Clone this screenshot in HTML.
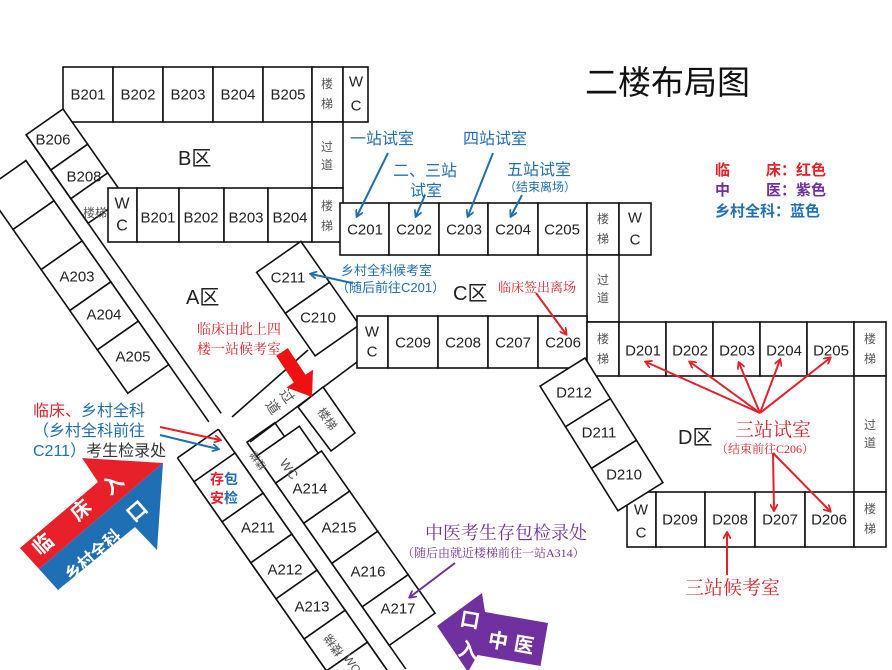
<!DOCTYPE html>
<html><head><meta charset="utf-8"><style>
html,body{margin:0;padding:0;background:#fff;width:892px;height:670px;overflow:hidden}
svg{display:block}
text{font-family:"Liberation Sans","Noto Sans CJK SC",sans-serif}
.r{fill:#fff;stroke:#111;stroke-width:1.6}
.l{stroke:#111;stroke-width:1.6;fill:none}
.t{font-size:15px;fill:#222;text-anchor:middle;dominant-baseline:central}
.s{font-size:12px;fill:#555;text-anchor:middle;dominant-baseline:central}
.cj{font-family:"Liberation Serif","Noto Serif CJK SC",serif}
</style></head><body>
<svg width="892" height="670" viewBox="0 0 892 670" xmlns="http://www.w3.org/2000/svg" overflow="hidden">
<defs>
<clipPath id="cp"><rect x="0" y="0" width="892" height="670"/></clipPath>
<marker id="ab" markerWidth="8" markerHeight="8" refX="6" refY="4" orient="auto" markerUnits="userSpaceOnUse"><path d="M0,0 L7,4 L0,8" fill="none" stroke="#1f6fb5" stroke-width="1.8"/></marker>
<marker id="ar" markerWidth="8" markerHeight="8" refX="6" refY="4" orient="auto" markerUnits="userSpaceOnUse"><path d="M0,0 L7,4 L0,8" fill="none" stroke="#e8202a" stroke-width="1.8"/></marker>
<marker id="ap" markerWidth="8" markerHeight="8" refX="6" refY="4" orient="auto" markerUnits="userSpaceOnUse"><path d="M0,0 L7,4 L0,8" fill="none" stroke="#7030a0" stroke-width="1.8"/></marker>
</defs>
<g clip-path="url(#cp)">
<!-- B top row -->
<g>
<rect class="r" x="63" y="67" width="50" height="55"/><rect class="r" x="113" y="67" width="50" height="55"/>
<rect class="r" x="163" y="67" width="50" height="55"/><rect class="r" x="213" y="67" width="50" height="55"/>
<rect class="r" x="263" y="67" width="49" height="55"/><rect class="r" x="312" y="67" width="31" height="55"/>
<rect class="r" x="343" y="67" width="25" height="55"/>
<text class="t" x="88" y="95">B201</text><text class="t" x="138" y="95">B202</text><text class="t" x="188" y="95">B203</text><text class="t" x="238" y="95">B204</text><text class="t" x="288" y="95">B205</text>
<text class="s" x="327" y="84">楼</text><text class="s" x="327" y="104">梯</text>
<text class="t" x="356" y="82">W</text><text class="t" x="356" y="106">C</text>
<rect class="r" x="312" y="122" width="31" height="66"/>
<text class="s" x="327" y="147">过</text><text class="s" x="327" y="165">道</text>
</g>

<!-- left A wing -->
<g transform="translate(63,109) rotate(55)">
<rect class="r" x="0" y="0" width="43" height="45"/><rect class="r" x="43" y="0" width="35" height="45"/><rect class="r" x="78" y="0" width="30" height="45"/>
<line class="l" x1="0" y1="45" x2="340" y2="45"/><line class="l" x1="20" y1="60" x2="340" y2="60"/>
<rect class="r" x="21" y="60" width="49" height="50"/><rect class="r" x="70" y="60" width="49" height="50"/>
<rect class="r" x="119" y="60" width="50" height="50"/><rect class="r" x="169" y="60" width="48" height="50"/>
<rect class="r" x="217" y="60" width="53" height="50"/>
</g>
<g>
<rect class="r" x="108" y="188" width="29" height="54"/><rect class="r" x="137" y="188" width="42" height="54"/>
<rect class="r" x="179" y="188" width="45" height="54"/><rect class="r" x="224" y="188" width="44" height="54"/>
<rect class="r" x="268" y="188" width="44" height="54"/><rect class="r" x="312" y="188" width="31" height="54"/>
<text class="t" x="122" y="204" style="font-size:16px">W</text><text class="t" x="122" y="226" style="font-size:16px">C</text>
<text class="t" x="158" y="218">B201</text><text class="t" x="201" y="218">B202</text><text class="t" x="246" y="218">B203</text><text class="t" x="290" y="218">B204</text>
<text class="s" x="327" y="206">楼</text><text class="s" x="327" y="226">梯</text>
</g>
<text x="178" y="165" style="font-size:20px;fill:#222">B区</text>
<text class="t" x="53" y="140">B206</text><text class="t" x="84" y="177">B208</text>
<text class="s" x="95" y="213">楼梯</text>
<text class="t" x="77" y="277">A203</text><text class="t" x="104" y="315">A204</text><text class="t" x="133" y="357">A205</text>
<text x="186" y="304" style="font-size:20px;fill:#222">A区</text>

<!-- lower A wing -->
<g transform="translate(235,453) rotate(55)">
<line class="l" x1="-29" y1="50" x2="270" y2="50"/><line class="l" x1="-29" y1="0" x2="-29" y2="50"/>
<line class="l" x1="-29" y1="0" x2="275" y2="0"/>
<rect class="r" x="0" y="0" width="49" height="50"/><rect class="r" x="49" y="0" width="50" height="50"/>
<rect class="r" x="99" y="0" width="44" height="50"/><rect class="r" x="143" y="0" width="49" height="50"/>
<rect class="r" x="192" y="0" width="39" height="50"/><rect class="r" x="231" y="0" width="40" height="50"/>
<line class="l" x1="0" y1="-16" x2="275" y2="-16"/>
<rect class="r" x="-2" y="-50" width="17" height="34"/><rect class="r" x="15" y="-68" width="33" height="52"/>
<rect class="r" x="48" y="-72" width="49" height="56"/><rect class="r" x="97" y="-72" width="49" height="56"/>
<rect class="r" x="146" y="-72" width="53" height="56"/><rect class="r" x="199" y="-72" width="47" height="56"/>
</g>
<text x="224" y="484" style="font-size:14px;font-weight:bold;text-anchor:middle"><tspan fill="#e8202a">存</tspan><tspan fill="#1f6fb5">包</tspan></text>
<text x="224" y="503" style="font-size:14px;font-weight:bold;text-anchor:middle"><tspan fill="#e8202a">安</tspan><tspan fill="#1f6fb5">检</tspan></text>
<text class="t" x="258" y="528">A211</text><text class="t" x="285" y="570">A212</text><text class="t" x="312" y="607">A213</text>
<text class="t" x="310" y="489">A214</text><text class="t" x="339" y="528">A215</text><text class="t" x="368" y="572">A216</text><text class="t" x="398" y="609">A217</text>
<text class="s" transform="translate(334,645) rotate(-125)">楼梯</text>
<text class="s" transform="translate(352,664) rotate(55)">WC</text>
<text class="s" transform="translate(259,460) rotate(-125)" style="font-size:10px">楼梯</text>
<text class="s" transform="translate(289,469) rotate(55)" style="font-size:13px">WC</text>

<!-- C211/C210 wing & corridor -->
<g transform="translate(302,243) rotate(55)">
<rect class="r" x="-2" y="0" width="50" height="54"/><rect class="r" x="48" y="0" width="52" height="54"/>
</g>
<line class="l" x1="232" y1="417" x2="308" y2="350"/>
<line class="l" x1="250" y1="442" x2="357" y2="362"/>
<polygon class="r" points="298,407 323,387 355,433 331,451"/>
<text class="s" transform="translate(327,419) rotate(55)">楼梯</text>
<text class="s" transform="translate(287,396) rotate(55)" style="font-size:14px">过</text>
<text class="s" transform="translate(273,407) rotate(55)" style="font-size:14px">道</text>
<text class="t" x="288" y="278">C211</text><text class="t" x="318" y="318">C210</text>
<polygon fill="#ee1111" points="287.8,348.1 305.5,374.7 313,369.7 312,397 286.4,387.5 293.9,382.5 276.2,355.9"/>
<text x="197" y="334" style="font-size:14px;fill:#e8202a" class="cj">临床由此上四</text>
<text x="197" y="354" style="font-size:14px;fill:#e8202a" class="cj">楼一站候考室</text>

<!-- C top row -->
<rect class="r" x="340" y="203" width="49" height="52"/><rect class="r" x="389" y="203" width="50" height="52"/>
<rect class="r" x="439" y="203" width="49" height="52"/><rect class="r" x="488" y="203" width="50" height="52"/>
<rect class="r" x="538" y="203" width="49" height="52"/><rect class="r" x="587" y="203" width="32" height="52"/>
<rect class="r" x="619" y="203" width="32" height="52"/>
<text class="t" x="365" y="230">C201</text><text class="t" x="414" y="230">C202</text><text class="t" x="464" y="230">C203</text><text class="t" x="513" y="230">C204</text><text class="t" x="562" y="230">C205</text>
<text class="s" x="603" y="219">楼</text><text class="s" x="603" y="239">梯</text>
<text class="t" x="635" y="218">W</text><text class="t" x="635" y="240">C</text>
<rect class="r" x="587" y="255" width="32" height="67"/>
<text class="s" x="603" y="280">过</text><text class="s" x="603" y="298">道</text>
<!-- C bottom row -->
<rect class="r" x="357" y="316" width="31" height="52"/><rect class="r" x="388" y="316" width="50" height="52"/>
<rect class="r" x="438" y="316" width="50" height="52"/><rect class="r" x="488" y="316" width="50" height="52"/>
<rect class="r" x="538" y="316" width="49" height="52"/>
<text class="t" x="372" y="332">W</text><text class="t" x="372" y="352">C</text>
<text class="t" x="413" y="343">C209</text><text class="t" x="463" y="343">C208</text><text class="t" x="513" y="343">C207</text><text class="t" x="563" y="343">C206</text>
<rect class="r" x="587" y="322" width="32" height="54"/>
<text class="s" x="603" y="339">楼</text><text class="s" x="603" y="359">梯</text>
<text x="453" y="300" style="font-size:20px;fill:#222">C区</text>
<!-- D rows -->
<rect class="r" x="619" y="322" width="47" height="54"/><rect class="r" x="666" y="322" width="47" height="54"/>
<rect class="r" x="713" y="322" width="47" height="54"/><rect class="r" x="760" y="322" width="47" height="54"/>
<rect class="r" x="807" y="322" width="47" height="54"/><rect class="r" x="854" y="322" width="32" height="54"/>
<text class="t" x="643" y="351">D201</text><text class="t" x="690" y="351">D202</text><text class="t" x="737" y="351">D203</text><text class="t" x="784" y="351">D204</text><text class="t" x="831" y="351">D205</text>
<text class="s" x="870" y="339">楼</text><text class="s" x="870" y="359">梯</text>
<rect class="r" x="854" y="376" width="32" height="116"/>
<text class="s" x="870" y="425">过</text><text class="s" x="870" y="443">道</text>
<rect class="r" x="627" y="492" width="29" height="55"/><rect class="r" x="656" y="492" width="49" height="55"/>
<rect class="r" x="705" y="492" width="50" height="55"/><rect class="r" x="755" y="492" width="50" height="55"/>
<rect class="r" x="805" y="492" width="49" height="55"/><rect class="r" x="854" y="492" width="32" height="55"/>
<text class="t" x="641" y="510">W</text><text class="t" x="641" y="533">C</text>
<text class="t" x="680" y="520">D209</text><text class="t" x="730" y="520">D208</text><text class="t" x="780" y="520">D207</text><text class="t" x="829" y="520">D206</text>
<text class="s" x="870" y="509">楼</text><text class="s" x="870" y="529">梯</text>
<g transform="translate(585,358) rotate(58)">
<rect class="r" x="0" y="0" width="48" height="53"/><rect class="r" x="48" y="0" width="49" height="53"/><rect class="r" x="97" y="0" width="50" height="53"/>
</g>
<text class="t" x="574" y="393">D212</text><text class="t" x="599" y="433">D211</text><text class="t" x="624" y="475">D210</text>
<text x="678" y="444" style="font-size:20px;fill:#222">D区</text>

<!-- title & legend -->
<text x="585" y="94" style="font-size:33px;fill:#111">二楼布局图</text>
<g style="font-size:15px;font-weight:bold">
<text x="715" y="175" fill="#e8202a">临</text><text x="766" y="175" fill="#e8202a">床：红色</text>
<text x="715" y="195" fill="#7030a0">中</text><text x="766" y="195" fill="#7030a0">医：紫色</text>
<text x="715" y="216" fill="#1f6fb5">乡村全科：蓝色</text>
</g>

<!-- blue labels -->
<g class="cj" fill="#1f6fb5">
<text x="350" y="144" style="font-size:16px">一站试室</text>
<text x="463" y="144" style="font-size:16px">四站试室</text>
<text x="393" y="176" style="font-size:16px">二、三站</text>
<text x="410" y="196" style="font-size:16px">试室</text>
<text x="507" y="175" style="font-size:16px">五站试室</text>
<text x="504" y="191" style="font-size:12px">（结束离场）</text>
<text x="341" y="275" style="font-size:13px">乡村全科候考室</text>
<text x="336" y="292" style="font-size:13px">（随后前往C201）</text>
</g>
<g stroke="#1f6fb5" stroke-width="2" marker-end="url(#ab)">
<line x1="388" y1="153" x2="357" y2="216"/>
<line x1="425" y1="195" x2="416" y2="216"/>
<line x1="493" y1="153" x2="468" y2="216"/>
<line x1="522" y1="195" x2="511" y2="216"/>
<line x1="352" y1="283" x2="311" y2="274"/>
</g>
<text x="498" y="292" class="cj" style="font-size:13px;fill:#e8202a">临床签出离场</text>
<g stroke="#e8202a" stroke-width="2" marker-end="url(#ar)">
<line x1="536" y1="293" x2="566" y2="334"/>
<line x1="760" y1="413" x2="646" y2="362"/>
<line x1="760" y1="413" x2="690" y2="362"/>
<line x1="760" y1="413" x2="739" y2="363"/>
<line x1="760" y1="413" x2="780" y2="360"/>
<line x1="760" y1="413" x2="830" y2="358"/>
<line x1="773" y1="453" x2="774" y2="510"/>
<line x1="773" y1="453" x2="830" y2="511"/>
<line x1="727" y1="575" x2="727" y2="533"/>
</g>
<text x="735" y="436" class="cj" style="font-size:19px;fill:#e8202a">三站试室</text>
<text x="716" y="453" class="cj" style="font-size:12px;fill:#e8202a">（结束前往C206）</text>
<text x="685" y="594" class="cj" style="font-size:19px;fill:#e8202a">三站候考室</text>

<!-- left labels -->
<g class="cj" style="font-size:16px">
<text x="33" y="416"><tspan fill="#e8202a">临床、</tspan><tspan fill="#1f6fb5">乡村全科</tspan></text>
<text x="33" y="436" fill="#1f6fb5">（乡村全科前往</text>
<text x="33" y="456"><tspan fill="#1f6fb5" font-family="Liberation Sans">C211</tspan><tspan fill="#1f6fb5">）</tspan><tspan fill="#333">考生检录处</tspan></text>
</g>
<line x1="160" y1="427" x2="220" y2="440" stroke="#e8202a" stroke-width="2" marker-end="url(#ar)"/>
<line x1="160" y1="435" x2="218" y2="449" stroke="#1f6fb5" stroke-width="2" marker-end="url(#ab)"/>

<!-- entrance arrow red/blue -->
<polygon fill="#e8202a" points="20,548 98,482 82,458 163,463 39,569"/>
<polygon fill="#1f6fb5" points="163,463 157,550 135,527 58,590 39,569"/>
<g fill="#fff" style="font-size:20px;font-weight:bold">
<text transform="translate(40,556) rotate(-41)">临</text>
<text transform="translate(78,522) rotate(-41)">床</text>
<text transform="translate(110,496) rotate(-41)">入</text>
<text transform="translate(71,582) rotate(-41)" style="font-size:17px">乡村全科</text>
<text transform="translate(134,523) rotate(-41)">口</text>
</g>

<!-- purple -->
<text x="425" y="539" class="cj" style="font-size:18px;fill:#7030a0">中医考生存包检录处</text>
<text x="402" y="557" class="cj" style="font-size:12px;fill:#7030a0">（随后由就近楼梯前往一站A314）</text>
<line x1="455" y1="563" x2="410" y2="597" stroke="#7030a0" stroke-width="2" marker-end="url(#ap)"/>
<polygon fill="#7030a0" points="437,626 482,593 485,612 548,623 540.5,666 477.5,655 468,672"/>
<g fill="#fff" style="font-size:20px;font-weight:bold">
<text transform="translate(487,646) rotate(10)">中</text>
<text transform="translate(513,650) rotate(10)">医</text>
<text transform="translate(459,625) rotate(10)">口</text>
<text transform="translate(457,655) rotate(10)">入</text>
</g>
</g>
</svg>
</body></html>
